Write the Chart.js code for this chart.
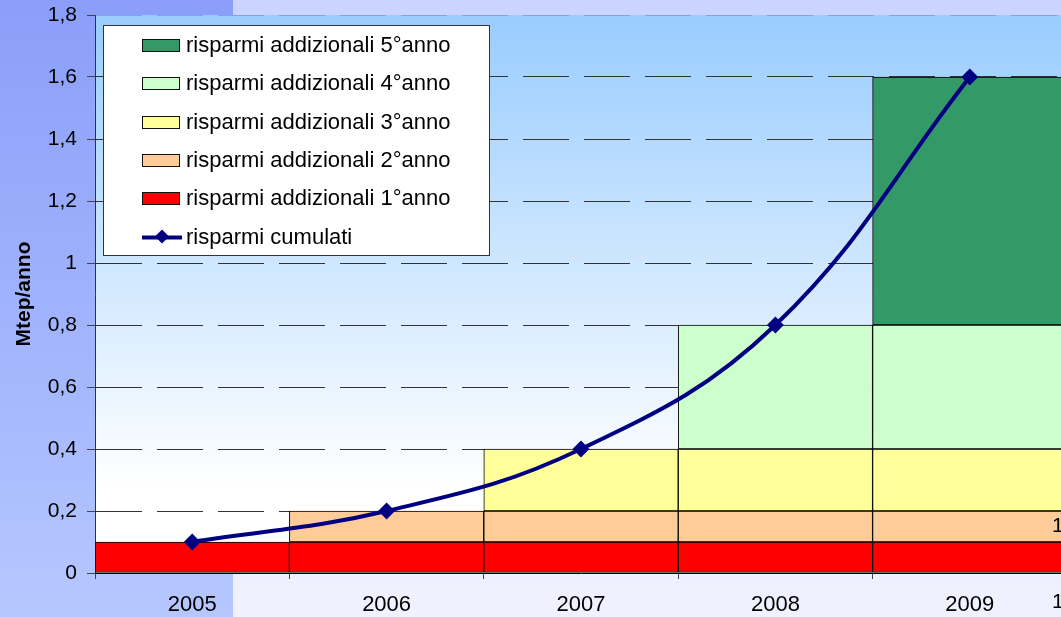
<!DOCTYPE html>
<html>
<head>
<meta charset="utf-8">
<script src="https://cdn.jsdelivr.net/npm/chart.js@4.4.1/dist/chart.umd.min.js"></script>
<style>
  html, body { margin: 0; padding: 0; overflow: hidden; width: 1061px; height: 617px; }
  #bgLeft { position: absolute; left: 0; top: 0; width: 233px; height: 617px;
    background: linear-gradient(to bottom, #8a9ef9, #b6c7ff); }
  #bgRight { position: absolute; left: 233px; top: 0; width: 900px; height: 617px;
    background: linear-gradient(to bottom, #cbd4ff, #f0f2ff); }
  #wrap { position: absolute; left: 0; top: 0; width: 1080px; height: 617px; }
</style>
</head>
<body>
<div id="bgLeft"></div>
<div id="bgRight"></div>
<div id="wrap"><canvas id="c" width="1080" height="617"></canvas></div>
<script>
// ---- data ----
const years = ['2005', '2006', '2007', '2008', '2009'];
const anno1 = [0.1, 0.1, 0.1, 0.1, 0.1];
const anno2 = [null, 0.1, 0.1, 0.1, 0.1];
const anno3 = [null, null, 0.2, 0.2, 0.2];
const anno4 = [null, null, null, 0.4, 0.4];
const anno5 = [null, null, null, null, 0.8];
const cumulati = [0.1, 0.2, 0.4, 0.8, 1.6];
const yTickLabels = ['0', '0,2', '0,4', '0,6', '0,8', '1', '1,2', '1,4', '1,6', '1,8'];
const seriesLabels = [
  'risparmi addizionali 1°anno',
  'risparmi addizionali 2°anno',
  'risparmi addizionali 3°anno',
  'risparmi addizionali 4°anno',
  'risparmi addizionali 5°anno',
  'risparmi cumulati'
];
const yTitle = 'Mtep/anno';
const edgeTexts = ['1', '1'];

const FONT = "'Liberation Sans', Arial, sans-serif";

const plotBg = {
  id: 'plotBg',
  beforeDraw(chart) {
    const { ctx, chartArea: a } = chart;
    const g = ctx.createLinearGradient(0, a.top, 0, a.bottom);
    g.addColorStop(0, '#99ccff');
    g.addColorStop(0.85, '#ffffff');
    g.addColorStop(1, '#ffffff');
    ctx.save();
    ctx.fillStyle = g;
    ctx.fillRect(a.left, a.top, a.right - a.left, a.bottom - a.top);
    ctx.restore();
  }
};

const customLegend = {
  id: 'customLegend',
  afterDraw(chart) {
    const ctx = chart.ctx;
    const ds = chart.data.datasets;
    const order = [4, 3, 2, 1, 0, 5];
    ctx.save();
    ctx.fillStyle = '#ffffff';
    ctx.fillRect(103, 25, 387, 231);
    ctx.strokeStyle = '#333333';
    ctx.lineWidth = 1;
    ctx.strokeRect(103.5, 25.5, 386, 230);
    ctx.font = '22px ' + FONT;
    ctx.textBaseline = 'middle';
    ctx.textAlign = 'left';
    order.forEach((idx, i) => {
      const d = ds[idx];
      const cy = 45 + i * 38.3;
      if (d.type === 'line') {
        ctx.strokeStyle = d.borderColor;
        ctx.lineWidth = 4;
        ctx.beginPath();
        ctx.moveTo(142, Math.round(cy) + 0.5);
        ctx.lineTo(182, Math.round(cy) + 0.5);
        ctx.stroke();
        ctx.fillStyle = d.borderColor;
        ctx.beginPath();
        const r = 7;
        ctx.moveTo(162 - r, cy); ctx.lineTo(162, cy - r);
        ctx.lineTo(162 + r, cy); ctx.lineTo(162, cy + r);
        ctx.closePath(); ctx.fill();
      } else {
        ctx.fillStyle = d.backgroundColor;
        ctx.fillRect(142, Math.round(cy) - 6, 38, 13);
        ctx.strokeStyle = '#111111';
        ctx.lineWidth = 1;
        ctx.strokeRect(142.5, Math.round(cy) - 5.5, 37, 12);
      }
      ctx.fillStyle = '#000000';
      ctx.fillText(d.label, 186, cy + 1);
    });
    // cut-off texts at the right edge
    ctx.font = '21px ' + FONT;
    ctx.fillText(edgeTexts[0], 1052, 526);
    ctx.fillText(edgeTexts[1], 1052, 602);
    ctx.restore();
  }
};

const barColors = ['#ff0000', '#ffcc99', '#ffff99', '#ccffcc', '#339966'];
const barData = [anno1, anno2, anno3, anno4, anno5];

const datasets = barData.map((arr, i) => ({
  type: 'bar',
  label: seriesLabels[i],
  data: arr,
  backgroundColor: barColors[i],
  borderColor: '#000000',
  borderWidth: 1,
  borderSkipped: false,
  categoryPercentage: 1.0,
  barPercentage: 1.0,
  yAxisID: 'y',
  order: 2
}));
datasets.push({
  type: 'line',
  label: seriesLabels[5],
  data: cumulati,
  borderColor: '#000080',
  backgroundColor: '#000080',
  borderWidth: 4,
  tension: 0.4,
  pointStyle: 'rectRot',
  pointRadius: 7,
  pointBorderWidth: 2,
  pointBackgroundColor: '#000080',
  pointBorderColor: '#000080',
  yAxisID: 'y2',
  order: 0,
  clip: false
});

new Chart(document.getElementById('c'), {
  data: { labels: years, datasets },
  options: {
    responsive: false,
    devicePixelRatio: 1,
    animation: false,
    layout: { padding: { left: 0, top: 15, right: 13, bottom: 0 } },
    plugins: { legend: { display: false }, tooltip: { enabled: false } },
    scales: {
      x: {
        type: 'category',
        stacked: true,
        offset: true,
        afterFit(s) { s.height = 44; s.paddingLeft = 0; s.paddingRight = 0; },
        grid: { display: true, drawOnChartArea: false, drawTicks: true, tickLength: 6,
                offset: true, color: '#444444', lineWidth: 1 },
        border: { display: true, color: '#000000', width: 1 },
        ticks: { color: '#000000', font: { family: FONT, size: 22 }, padding: 13, maxRotation: 0 }
      },
      y: {
        stacked: true,
        min: 0, max: 1.8,
        afterFit(s) { s.width = 95; s.paddingTop = 0; s.paddingBottom = 0; },
        ticks: {
          stepSize: 0.2,
          color: '#000000',
          padding: 10,
          font: { family: FONT, size: 21 },
          callback: (v, i) => yTickLabels[i]
        },
        grid: {
          color: (c) => (c.tick && c.tick.value > 1.79) ? 'rgba(110,130,200,0.55)' : '#333333',
          lineWidth: 1,
          tickLength: 8,
          tickBorderDash: [],
          tickColor: '#444444'
        },
        border: { display: true, color: '#333333', width: 1, dash: [46, 15] },
        title: {
          display: true, text: yTitle, color: '#000000',
          font: { family: FONT, size: 21, weight: 'bold' },
          padding: { top: 12, bottom: 0 }
        }
      },
      y2: { display: false, min: 0, max: 1.8 }
    }
  },
  plugins: [plotBg, customLegend]
});
</script>
</body>
</html>
